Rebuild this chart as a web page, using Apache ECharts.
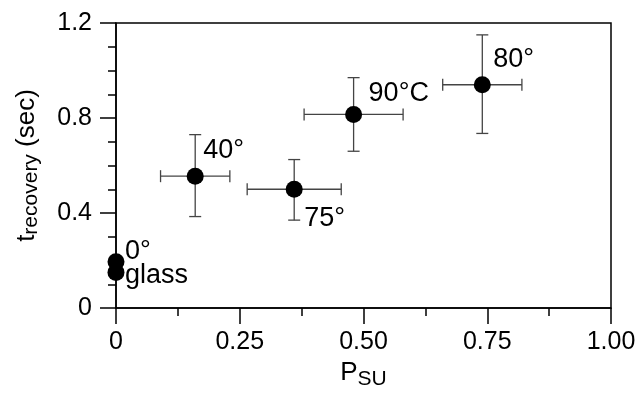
<!DOCTYPE html>
<html><head><meta charset="utf-8">
<script src="https://cdn.jsdelivr.net/npm/echarts@6/dist/echarts.min.js"></script>
<style>html,body{margin:0;padding:0;background:#fff}#c{width:641px;height:396px}</style>
</head><body><div id="c"></div>
<script>
// Data
var names = ['glass', '0°', '40°', '75°', '90°C', '80°'];
var psu = [0, 0, 0.16, 0.36, 0.48, 0.74];
var trec = [0.15, 0.195, 0.555, 0.50, 0.815, 0.94];
var psuLow = [null, null, 0.09, 0.265, 0.38, 0.66];
var psuHigh = [null, null, 0.23, 0.455, 0.58, 0.82];
var trecLow = [null, null, 0.385, 0.37, 0.66, 0.735];
var trecHigh = [null, null, 0.73, 0.625, 0.97, 1.15];
var xTicks = [0, 0.25, 0.5, 0.75, 1.0];
var yTicks = [0, 0.4, 0.8, 1.2];

// Label placement (style)
var labelOffsets = {
  'glass': [9, 3], '0°': [9, -10], '40°': [8, -26],
  '75°': [10, 29], '90°C': [15, -21], '80°': [11, -25]
};

var FONT = 'Liberation Sans, Arial, Helvetica, sans-serif';

var scatterData = names.map(function (n, i) {
  return {
    value: [psu[i], trec[i]], name: n,
    label: { show: true, formatter: n, position: 'inside', align: 'left', verticalAlign: 'middle',
      offset: labelOffsets[n], color: '#000', opacity: 1, fontSize: 27, fontFamily: FONT }
  };
});
var errData = [];
names.forEach(function (n, i) {
  if (psuLow[i] != null) errData.push([psu[i], trec[i], psuLow[i], psuHigh[i], trecLow[i], trecHigh[i]]);
});

var chart = echarts.init(document.getElementById('c'));
chart.setOption({
  animation: false,
  grid: { left: 116, top: 23, right: 30, bottom: 88, show: true, borderColor: '#000', borderWidth: 1.5, backgroundColor: 'transparent' },
  xAxis: {
    type: 'value', min: xTicks[0], max: xTicks[xTicks.length - 1], interval: 0.25,
    name: '{m|P}{s|SU}', nameLocation: 'middle', nameGap: 50,
    nameTextStyle: { rich: { m: { fontSize: 26, fontFamily: FONT, color: '#000', verticalAlign: 'bottom' }, s: { fontSize: 21, fontFamily: FONT, color: '#000', verticalAlign: 'bottom', padding: [0, 0, -4, 0] } } },
    axisLine: { show: true, lineStyle: { color: '#000', width: 1.5 } },
    axisTick: { show: true, inside: false, length: 16, lineStyle: { color: '#000', width: 1.5 } },
    minorTick: { show: true, splitNumber: 2, length: 8, lineStyle: { color: '#000', width: 1.5 } },
    splitLine: { show: false },
    axisLabel: { margin: 22, fontSize: 25, fontFamily: FONT, color: '#000',
      formatter: function (v) { return v === 0 ? '0' : v.toFixed(2); } }
  },
  yAxis: {
    type: 'value', min: yTicks[0], max: yTicks[yTicks.length - 1], interval: 0.4,
    name: '{m|t}{s|recovery}{m| (sec)}', nameLocation: 'middle', nameGap: 76,
    nameTextStyle: { rich: { m: { fontSize: 26, fontFamily: FONT, color: '#000', verticalAlign: 'bottom' }, s: { fontSize: 21, fontFamily: FONT, color: '#000', verticalAlign: 'bottom', padding: [0, 0, -2, 0] } } },
    axisLine: { show: true, lineStyle: { color: '#000', width: 1.5 } },
    axisTick: { show: true, inside: false, length: 16, lineStyle: { color: '#000', width: 1.5 } },
    minorTick: { show: true, splitNumber: 4, length: 8, lineStyle: { color: '#000', width: 1.5 } },
    splitLine: { show: false },
    axisLabel: { margin: 24, fontSize: 25, fontFamily: FONT, color: '#000',
      formatter: function (v) { return v === 0 ? '0' : v.toFixed(1); } }
  },
  series: [
    {
      type: 'custom', z: 3, clip: false,
      renderItem: function (params, api) {
        var c = api.coord([api.value(0), api.value(1)]);
        var xl = api.coord([api.value(2), api.value(1)]);
        var xh = api.coord([api.value(3), api.value(1)]);
        var yl = api.coord([api.value(0), api.value(4)]);
        var yh = api.coord([api.value(0), api.value(5)]);
        var cap = 6;
        var st = { stroke: '#444', lineWidth: 1.3 };
        var L = function (x1, y1, x2, y2) { return { type: 'line', shape: { x1: x1, y1: y1, x2: x2, y2: y2 }, style: st }; };
        return { type: 'group', children: [
          L(xl[0], c[1], xh[0], c[1]),
          L(xl[0], c[1] - cap, xl[0], c[1] + cap),
          L(xh[0], c[1] - cap, xh[0], c[1] + cap),
          L(c[0], yl[1], c[0], yh[1]),
          L(c[0] - cap, yl[1], c[0] + cap, yl[1]),
          L(c[0] - cap, yh[1], c[0] + cap, yh[1])
        ] };
      },
      data: errData
    },
    {
      type: 'scatter', z: 5, clip: false, symbol: 'circle', symbolSize: 17,
      itemStyle: { color: '#000', opacity: 1 },
      emphasis: { disabled: true },
      data: scatterData
    }
  ]
});
</script>
</body></html>
